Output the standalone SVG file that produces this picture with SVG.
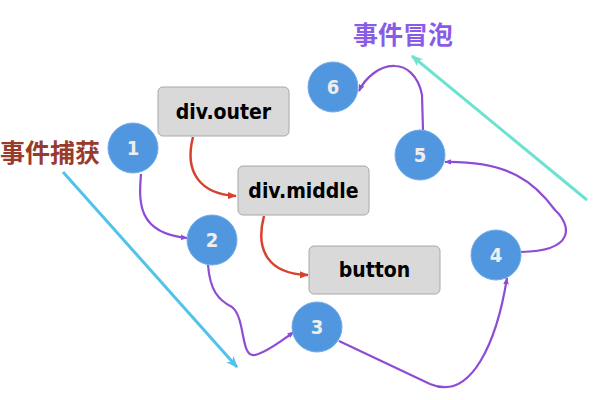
<svg xmlns="http://www.w3.org/2000/svg" width="600" height="400" viewBox="0 0 600 400">
<style>
.box{fill:#d9d9d9;stroke:#a8a8a8;stroke-width:1}
.bt{font-family:"DejaVu Sans Condensed","DejaVu Sans",sans-serif;font-weight:bold;font-size:21px;fill:#000;text-anchor:middle}
.c{fill:#5197e0;stroke:#72acea;stroke-width:1}
.n{font-family:"DejaVu Sans Condensed","DejaVu Sans",sans-serif;font-weight:bold;font-size:20px;fill:#eeeeee;text-anchor:middle}
.p{fill:none;stroke:#8e4bd6;stroke-width:2.2}
.r{fill:none;stroke:#d9412f;stroke-width:2.5}
.zh{font-family:"Noto Sans CJK SC",sans-serif;font-size:25px;font-weight:bold}
</style>
<defs>
<marker id="ap" viewBox="0 0 10 10" refX="9" refY="5" markerWidth="7" markerHeight="7" markerUnits="userSpaceOnUse" orient="auto"><path d="M0,1 L10,5 L0,9 z" fill="#8e4bd6"/></marker>
<marker id="ar" viewBox="0 0 10 10" refX="9" refY="5" markerWidth="9" markerHeight="9" markerUnits="userSpaceOnUse" orient="auto"><path d="M0,1 L10,5 L0,9 z" fill="#d9412f"/></marker>
<marker id="ac" viewBox="0 0 10 10" refX="9" refY="5" markerWidth="12" markerHeight="12" markerUnits="userSpaceOnUse" orient="auto"><path d="M0,1 L10,5 L0,9 L3,5 z" fill="#4fc3ea"/></marker>
<marker id="at" viewBox="0 0 10 10" refX="9" refY="5" markerWidth="12" markerHeight="12" markerUnits="userSpaceOnUse" orient="auto"><path d="M0,1 L10,5 L0,9 L3,5 z" fill="#6ee2d2"/></marker>
</defs>
<g id="connectors">
<line x1="63" y1="172" x2="237" y2="367" stroke="#4fc3ea" stroke-width="3" marker-end="url(#ac)"/>
<line x1="587" y1="200" x2="412" y2="56" stroke="#6ee2d2" stroke-width="3" marker-end="url(#at)"/>
<path class="r" d="M193,137 C184,172 200,194 236,196" marker-end="url(#ar)"/>
<path class="r" d="M264,216 C255,250 268,274 308,275" marker-end="url(#ar)"/>
<path class="p" d="M141,174 C139,200 136,233 187,238" marker-end="url(#ap)"/>
<path class="p" d="M208,265 C210,290 218,300 232,307 C246,318 240,358 255,355 C268,352 282,340 294,332" marker-end="url(#ap)"/>
<path class="p" d="M339,341 L430,384 C472,402 497,340 507,278" marker-end="url(#ap)"/>
<path class="p" d="M521,252 C575,251 572,226 555,210 C535,183 510,161 445,162" marker-end="url(#ap)"/>
<path class="p" d="M423,130 L422,95 C418,74 405,66 395,66 C380,65 365,78 359,91" marker-end="url(#ap)"/>
</g>
<g id="label-capture"><text class="zh" x="0" y="162" fill="#983a2c">事件捕获</text></g>
<g id="label-bubble"><text class="zh" x="353" y="44" fill="#8a5ae8">事件冒泡</text></g>
<g id="div-outer"><rect class="box" x="158" y="87" width="131" height="49" rx="5"/><text class="bt" x="223.5" y="119">div.outer</text></g>
<g id="div-middle"><rect class="box" x="238" y="166" width="131" height="49" rx="5"/><text class="bt" x="303.5" y="198">div.middle</text></g>
<g id="button"><rect class="box" x="309" y="246" width="131" height="48" rx="5"/><text class="bt" x="374.5" y="277">button</text></g>
<g id="n1"><circle class="c" cx="133" cy="148" r="25"/><text class="n" x="133" y="155">1</text></g>
<g id="n2"><circle class="c" cx="212" cy="240" r="25"/><text class="n" x="212" y="247">2</text></g>
<g id="n3"><circle class="c" cx="317" cy="327" r="25"/><text class="n" x="317" y="334">3</text></g>
<g id="n4"><circle class="c" cx="496" cy="255" r="25"/><text class="n" x="496" y="262">4</text></g>
<g id="n5"><circle class="c" cx="420" cy="155" r="25"/><text class="n" x="420" y="162">5</text></g>
<g id="n6"><circle class="c" cx="333" cy="87" r="25"/><text class="n" x="333" y="94">6</text></g>
</svg>
